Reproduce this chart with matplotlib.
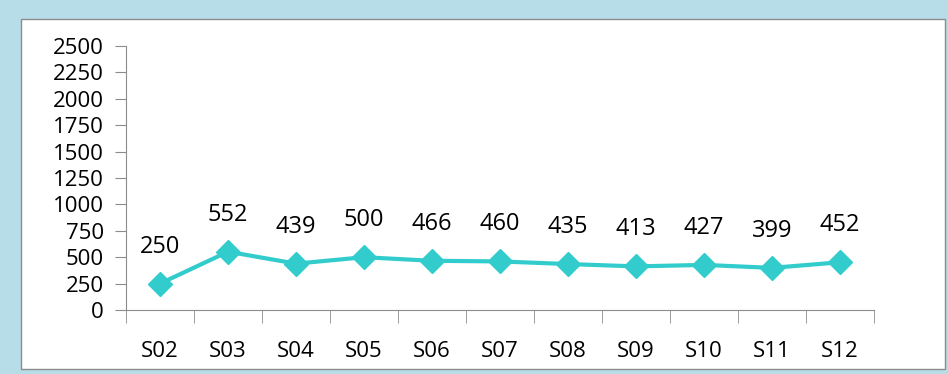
import matplotlib.pyplot as plt
from matplotlib.patches import Rectangle
import numpy as np

sessions = ["S02", "S03", "S04", "S05", "S06", "S07", "S08", "S09", "S10", "S11", "S12"]
counts = [250, 552, 439, 500, 466, 460, 435, 413, 427, 399, 452]
yticks = [0, 250, 500, 750, 1000, 1250, 1500, 1750, 2000, 2250, 2500]

plt.rcParams['font.family'] = ['Open Sans', 'DejaVu Sans']

fig = plt.figure(figsize=(9.48, 3.74), dpi=100, facecolor="#b7dde8")

# white chart panel inside the blue frame, kept behind the axes
fig.patches.append(Rectangle((21 / 948, 1 - 369 / 374), 924 / 948, 350 / 374,
                             transform=fig.transFigure, facecolor="white",
                             edgecolor="#8c8c8c", linewidth=1, zorder=-5))

ax = fig.add_axes([126 / 948, 1 - 310 / 374, 748 / 948, 264 / 374])
ax.set_facecolor("none")

x = np.arange(len(sessions))
ax.plot(x, counts, color="#33cccc", linewidth=3, marker="D", markersize=12,
        clip_on=False, zorder=3)
for xi, v in zip(x, counts):
    ax.annotate(str(v), (xi, v), xytext=(0, 18), textcoords="offset points",
                ha="center", va="bottom", fontsize=17)

ax.set_xlim(-0.5, len(sessions) - 0.5)
ax.set_ylim(0, 2500)
ax.set_yticks(yticks)
ax.set_yticklabels([str(t) for t in yticks], fontsize=16)
ax.set_xticks(x)
ax.set_xticklabels(sessions, fontsize=16)
ax.tick_params(axis="x", length=0, pad=22)
ax.set_xticks(np.arange(len(sessions) + 1) - 0.5, minor=True)
ax.tick_params(axis="x", which="minor", length=9, color="#8c8c8c")
ax.tick_params(axis="y", length=8, color="#8c8c8c", pad=8)

for s in ["top", "right"]:
    ax.spines[s].set_visible(False)
for s in ["left", "bottom"]:
    ax.spines[s].set_color("#8c8c8c")

fig.savefig("out.png", dpi=100, facecolor=fig.get_facecolor())
